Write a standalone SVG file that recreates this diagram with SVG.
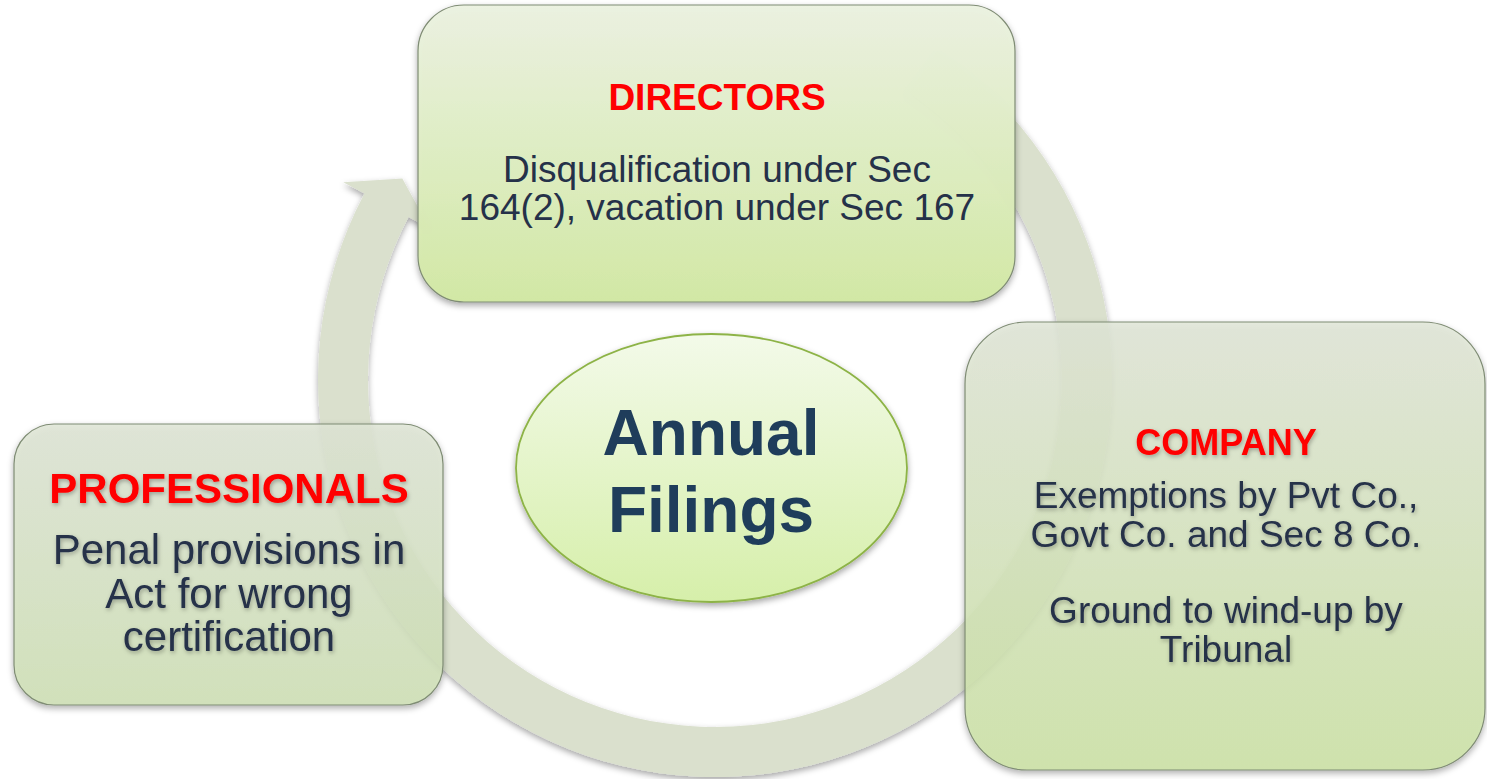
<svg xmlns="http://www.w3.org/2000/svg" width="1487" height="779" viewBox="0 0 1487 779">
  <defs>
    <linearGradient id="gDir" x1="0" y1="0" x2="0" y2="1">
      <stop offset="0" stop-color="#ebf2e1"/>
      <stop offset="1" stop-color="#d2e8a4"/>
    </linearGradient>
    <linearGradient id="gPro" x1="0" y1="0" x2="0" y2="1">
      <stop offset="0" stop-color="#dfe6d6"/>
      <stop offset="1" stop-color="#d0e2b6"/>
    </linearGradient>
    <linearGradient id="gCom" x1="0" y1="0" x2="0" y2="1">
      <stop offset="0" stop-color="#e1e7d8"/>
      <stop offset="1" stop-color="#cde4a6"/>
    </linearGradient>
    <linearGradient id="gHub" x1="0" y1="0" x2="0" y2="1">
      <stop offset="0" stop-color="#f3fae9"/>
      <stop offset="1" stop-color="#d6efaa"/>
    </linearGradient>
    <filter id="shadow" x="-10%" y="-10%" width="120%" height="125%">
      <feDropShadow dx="0" dy="3" stdDeviation="3" flood-color="#000" flood-opacity="0.35"/>
    </filter>
    <filter id="txtShadow" x="-5%" y="-20%" width="110%" height="150%">
      <feDropShadow dx="1" dy="2" stdDeviation="2" flood-color="#000" flood-opacity="0.3"/>
    </filter>
  </defs>
  <style>
    .box { stroke: #7f8c74; stroke-width: 1.2; filter: url(#shadow); }
    .head { font-family: "Liberation Sans", Arial, sans-serif; font-weight: bold; fill: #ff0000; text-anchor: middle; }
    .body { font-family: "Liberation Sans", Arial, sans-serif; fill: #253149; text-anchor: middle; }
    .hub { font-family: "Liberation Sans", Arial, sans-serif; font-weight: bold; fill: #1f3d5b; text-anchor: middle; font-size: 64px; }
  </style>

  <!-- circular arrow running clockwise behind the nodes -->
  <g id="connectors">
    <path id="cycle-arrow" fill="#dae0cd" filter="url(#shadow)"
      d="M937.0,50.9 A397,397 0 1 1 364.5,193.6 L343.3,182.3 L402.3,178.5 L429.8,228.4 L408.6,217.1 A347,347 0 1 0 909.0,92.3 Z"/>
  </g>

  <g id="node-directors">
    <rect class="box" x="418" y="5" width="597" height="297" rx="46" fill="url(#gDir)" fill-opacity="0.97"/>
    <text class="head" x="717" y="110" font-size="37">DIRECTORS</text>
    <text class="body" x="717" y="182" font-size="37">Disqualification under Sec</text>
    <text class="body" x="717" y="220" font-size="37">164(2), vacation under Sec 167</text>
  </g>

  <g id="node-professionals">
    <rect class="box" x="14" y="424" width="429" height="281" rx="40" fill="url(#gPro)" fill-opacity="0.85"/>
    <g filter="url(#txtShadow)">
      <text class="head" x="229" y="503" font-size="42">PROFESSIONALS</text>
      <text class="body" x="229" y="564" font-size="42">Penal provisions in</text>
      <text class="body" x="229" y="608" font-size="42">Act for wrong</text>
      <text class="body" x="229" y="651" font-size="42">certification</text>
    </g>
  </g>

  <g id="node-company">
    <rect class="box" x="965" y="322" width="520" height="448" rx="62" fill="url(#gCom)" fill-opacity="0.85"/>
    <g filter="url(#txtShadow)">
      <text class="head" x="1226" y="455" font-size="36">COMPANY</text>
      <text class="body" x="1226" y="508" font-size="37">Exemptions by Pvt Co.,</text>
      <text class="body" x="1226" y="547" font-size="37">Govt Co. and Sec 8 Co.</text>
      <text class="body" x="1226" y="623" font-size="37">Ground to wind-up by</text>
      <text class="body" x="1226" y="662" font-size="37">Tribunal</text>
    </g>
  </g>

  <g id="node-annual-filings">
    <ellipse cx="711.5" cy="468" rx="195.5" ry="134" fill="url(#gHub)" stroke="#8db346" stroke-width="1.8" filter="url(#shadow)"/>
    <text class="hub" x="711" y="455">Annual</text>
    <text class="hub" x="711" y="532">Filings</text>
  </g>
</svg>
